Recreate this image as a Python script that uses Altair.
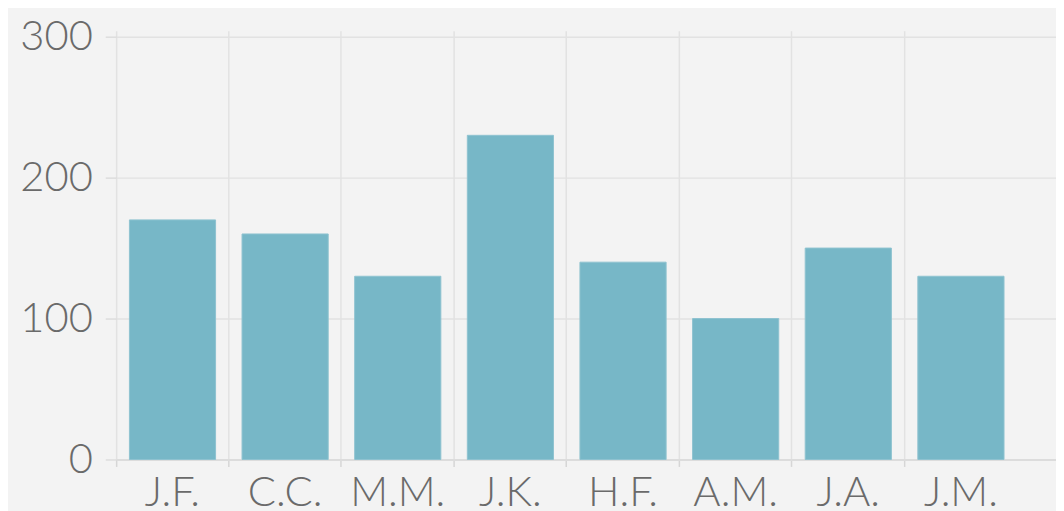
import altair as alt
import pandas as pd

names = ["J.F.", "C.C.", "M.M.", "J.K.", "H.F.", "A.M.", "J.A.", "J.M."]
values = [170, 160, 130, 230, 140, 100, 150, 130]
y_ticks = [0, 100, 200, 300]

df = pd.DataFrame({"name": names, "value": values})

FONT = "Lato"

chart = alt.Chart(df).mark_bar(
    color="#77b7c7", width=alt.RelativeBandSize(0.765), stroke="#8ec3d0", strokeWidth=1
).encode(
    x=alt.X("name:N", sort=names, title=None,
            scale=alt.Scale(paddingInner=0, paddingOuter=0.172, align=0, round=False),
            axis=alt.Axis(bandPosition=0, grid=True, gridColor="#e2e2e2", gridWidth=1.5,
                          ticks=True, tickSize=7, tickColor="#d6d6d6", tickWidth=1.5,
                          domain=True, domainColor="#dcdcdc", domainWidth=2,
                          labelAngle=0, labelFont=FONT, labelFontSize=42, labelFontWeight=300,
                          labelColor="#6a6a6a", labelPadding=39, labelBaseline="alphabetic")),
    y=alt.Y("value:Q", title=None,
            scale=alt.Scale(domain=[0, 304.2], nice=False, zero=True),
            axis=alt.Axis(values=y_ticks, grid=True, gridColor="#e2e2e2", gridWidth=1.5,
                          ticks=True, tickSize=11, tickColor="#dcdcdc", tickWidth=1.5,
                          domain=False, labelFont=FONT, labelFontSize=42, labelFontWeight=300,
                          labelColor="#6a6a6a", labelPadding=13)),
).properties(
    width=947, height=432,
    autosize=alt.AutoSizeParams(type="none"),
    padding={"left": 109, "top": 21, "right": 0, "bottom": 50},
    background="#f3f3f3",
).configure_view(stroke=None)

chart.save("out.html", embed_options={"renderer": "svg", "actions": False})
